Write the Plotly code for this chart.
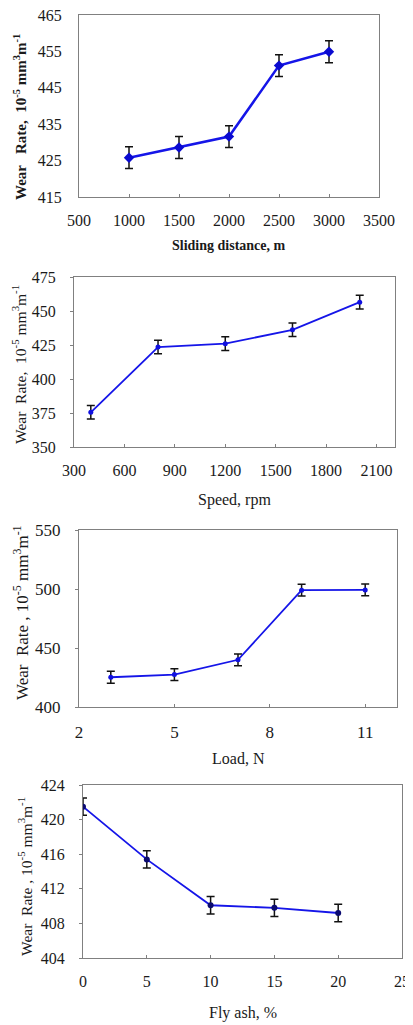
import plotly.graph_objects as go

# page body margin offsets the figure by 8px; build in window pixel coords
OFF = 8
W, H = 413 - OFF, 1025 - OFF

# Panel 1: sliding distance
dist_m = [1000, 1500, 2000, 2500, 3000]
wear_dist = [425.8, 428.6, 431.6, 451.1, 454.9]
err_dist = [3, 3, 3, 3, 3]

# Panel 2: speed
speed_rpm = [400, 800, 1200, 1600, 2000]
wear_speed = [375.5, 423.5, 426.0, 436.2, 456.5]
err_speed = [5, 5, 5, 5, 5]

# Panel 3: load
load_n = [3, 5, 7, 9, 11]
wear_load = [425.2, 427.5, 440.0, 499.0, 499.2]
err_load = [5, 5, 5, 5, 5]

# Panel 4: fly ash
flyash_pct = [0, 5, 10, 15, 20]
wear_fly = [421.5, 415.4, 410.1, 409.8, 409.2]
err_fly = [1, 1, 1, 1, 1]

SERIF = "Liberation Serif, Times New Roman, serif"
LINE = "#1515e8"
TXT = "#1a1a1a"

def px_x(p):
    return (p - OFF) / W

def px_y(p):
    return 1 - (p - OFF) / H

panels = [
    dict(x=dist_m, y=wear_dist, e=err_dist, xb=(79, 379), yb=(15, 197), xr=[500, 3500], xd=500,
         yr=[415, 465], yd=10, sym="diamond", msize=8, mcol="#0a0ad0", lw=2.5,
         xt="<b>Sliding distance, m</b>", xty=245, xtsize=14,
         yt="<b>Wear   Rate,  10<sup>-5</sup> mm<sup>3</sup>m<sup>-1</sup></b>", ytx=20, yty=117, ytsize=15,
         yticks="", tfs=16),
    dict(x=speed_rpm, y=wear_speed, e=err_speed, xb=(74, 395), yb=(277, 447), xr=[300, 2210], xd=300,
         yr=[350, 475], yd=25, sym="circle", msize=5, mcol="#1010e0", lw=1.8,
         xt="Speed, rpm", xty=500, xtsize=16,
         yt="Wear  Rate,  10<sup>-5</sup> mm<sup>3</sup>m<sup>-1</sup>", ytx=19, yty=365, ytsize=15.5,
         yticks="outside", tfs=16),
    dict(x=load_n, y=wear_load, e=err_load, xb=(79, 397), yb=(530, 707), xr=[2, 12], xd=3,
         yr=[400, 550], yd=50, sym="circle", msize=5, mcol="#1010e0", lw=1.8,
         xt="Load, N", xty=758, xtsize=16,
         yt="Wear  Rate , 10<sup>-5</sup> mm<sup>3</sup>m<sup>-1</sup>", ytx=21, yty=613, ytsize=17,
         yticks="outside", tfs=17),
    dict(x=flyash_pct, y=wear_fly, e=err_fly, xb=(83, 402), yb=(785, 958), xr=[0, 25], xd=5,
         yr=[404, 424], yd=4, sym="circle", msize=6, mcol="#0a0a70", lw=1.8,
         xt="Fly ash, %", xty=1013, xtsize=16,
         yt="Wear  Rate , 10<sup>-5</sup> mm<sup>3</sup>m<sup>-1</sup>", ytx=25, yty=877, ytsize=15.5,
         yticks="outside", tfs=16),
]

fig = go.Figure()
annotations = []
layout = {}
for i, p in enumerate(panels, start=1):
    xa = "x" if i == 1 else f"x{i}"
    ya = "y" if i == 1 else f"y{i}"
    fig.add_trace(go.Scatter(
        x=p["x"], y=p["y"], mode="lines+markers",
        xaxis=xa, yaxis=ya,
        line=dict(color=LINE, width=p["lw"]),
        marker=dict(symbol=p["sym"], size=p["msize"], color=p["mcol"]),
        error_y=dict(type="data", array=p["e"], visible=True, color="#111111", thickness=1.5, width=4),
        showlegend=False,
    ))
    xkey = "xaxis" if i == 1 else f"xaxis{i}"
    ykey = "yaxis" if i == 1 else f"yaxis{i}"
    layout[xkey] = dict(
        domain=[px_x(p["xb"][0]), px_x(p["xb"][1])], anchor=ya, automargin=False,
        range=p["xr"], dtick=p["xd"], tick0=p["xr"][0], showgrid=False, zeroline=False,
        showline=True, linecolor="#808080", linewidth=1.2, mirror=True,
        ticks="inside", ticklen=3, tickcolor="#808080", ticklabelstandoff=9,
        ticklabeloverflow="allow",
        tickfont=dict(family=SERIF, size=p["tfs"], color=TXT),
    )
    layout[ykey] = dict(
        domain=[px_y(p["yb"][1]), px_y(p["yb"][0])], anchor=xa, automargin=False,
        range=p["yr"], dtick=p["yd"], tick0=p["yr"][0], showgrid=False, zeroline=False,
        showline=True, linecolor="#808080", linewidth=1.2, mirror=True,
        ticks=p["yticks"], ticklen=3, tickcolor="#808080",
        ticklabelstandoff=11 if p["yticks"] else 13,
        ticklabeloverflow="allow",
        tickfont=dict(family=SERIF, size=p["tfs"], color=TXT),
    )
    cx = (p["xb"][0] + p["xb"][1]) / 2
    annotations.append(dict(
        text=p["xt"], x=px_x(cx), y=px_y(p["xty"]), xref="paper", yref="paper",
        xanchor="center", yanchor="middle", showarrow=False,
        font=dict(family=SERIF, size=p["xtsize"], color=TXT),
    ))
    annotations.append(dict(
        text=p["yt"], x=px_x(p["ytx"]), y=px_y(p["yty"]), xref="paper", yref="paper",
        xanchor="center", yanchor="middle", showarrow=False, textangle=-90,
        font=dict(family=SERIF, size=p["ytsize"], color=TXT),
    ))

fig.update_layout(
    width=W, height=H,
    margin=dict(l=0, r=0, t=0, b=0, autoexpand=False),
    paper_bgcolor="white", plot_bgcolor="white",
    annotations=annotations,
    **layout,
)

fig.write_html("out.html")
